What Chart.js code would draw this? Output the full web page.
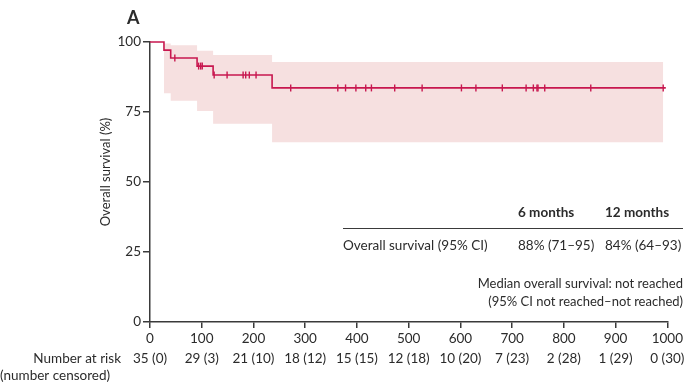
<!DOCTYPE html>
<html>
<head>
<meta charset="utf-8">
<script src="https://cdn.jsdelivr.net/npm/chart.js@4.4.0/dist/chart.umd.min.js"></script>
<style>
  html, body { margin: 0; padding: 0; background: #fff; }
  #wrap { width: 686px; height: 384px; }
</style>
</head>
<body>
<div id="wrap"><canvas id="survivalChart" width="686" height="384"></canvas></div>
<script>
// Kaplan-Meier curve (days, %)
const kmDays = [0, 27, 40, 91, 122, 236, 997];
const kmSurvival = [100, 97.1, 94.3, 91.4, 88.2, 83.6, 83.6];

// 95% CI band
const ciDays = [27, 40, 91, 122, 236, 992];
const ciUpper = [99.5, 98.8, 96.9, 95.4, 92.9, 92.9];
const ciLower = [81.7, 79.0, 75.4, 70.8, 64.2, 64.2];

// censored patients
const censorDays = [48, 94, 98, 101, 124, 149, 180, 185, 192, 205, 272, 363, 378, 398, 417, 428,
    473, 526, 602, 630, 681, 727, 741, 748, 750, 763, 852, 992];
const censorSurvival = [94.3, 91.4, 91.4, 91.4, 88.2, 88.2, 88.2, 88.2, 88.2, 88.2, 83.6, 83.6, 83.6,
    83.6, 83.6, 83.6, 83.6, 83.6, 83.6, 83.6, 83.6, 83.6, 83.6, 83.6, 83.6, 83.6, 83.6, 83.6];

// number at risk table
const riskDays = [0, 100, 200, 300, 400, 500, 600, 700, 800, 900, 1000];
const riskLabels = ['35 (0)', '29 (3)', '21 (10)', '18 (12)', '15 (15)', '12 (18)', '10 (20)',
    '7 (23)', '2 (28)', '1 (29)', '0 (30)'];

const xTicks = [0, 100, 200, 300, 400, 500, 600, 700, 800, 900, 1000];
const yTicks = [0, 25, 50, 75, 100];

const LINE_COLOR = '#c8174f';
const BAND_COLOR = '#f6e0e0';
const TEXT_COLOR = '#2b2b2b';
const AXIS_COLOR = '#3a3a3a';
const FONT = 'Lato';

const toPoints = (xs, ys) => xs.map((x, i) => ({ x: x, y: ys[i] }));

// text around the plot: panel letter, axis title, summary table, risk table
const annotations = {
    id: 'annotations',
    afterDraw(chart) {
        const ctx = chart.ctx;
        const xScale = chart.scales.x;
        ctx.save();
        ctx.fillStyle = TEXT_COLOR;
        ctx.textBaseline = 'middle';

        ctx.font = `bold 18px ${FONT}`;
        ctx.textAlign = 'left';
        ctx.fillText('A', 127, 18);

        // y axis title
        ctx.save();
        ctx.translate(106, 172);
        ctx.rotate(-Math.PI / 2);
        ctx.textAlign = 'center';
        ctx.font = `13px ${FONT}`;
        ctx.fillText('Overall survival (%)', 0, 0);
        ctx.restore();

        // summary table
        ctx.font = `bold 13.5px ${FONT}`;
        ctx.textAlign = 'left';
        ctx.fillText('6 months', 518, 213);
        ctx.fillText('12 months', 605, 213);

        ctx.strokeStyle = AXIS_COLOR;
        ctx.lineWidth = 1;
        ctx.beginPath();
        ctx.moveTo(343, 228.5);
        ctx.lineTo(683, 228.5);
        ctx.stroke();

        ctx.font = `13.5px ${FONT}`;
        ctx.fillText('Overall survival (95% CI)', 343, 246);
        ctx.fillText('88% (71\u201395)', 518, 246);
        ctx.fillText('84% (64\u201393)', 605, 246);

        ctx.font = `13px ${FONT}`;
        ctx.textAlign = 'right';
        ctx.fillText('Median overall survival: not reached', 683, 284);
        ctx.fillText('(95% CI not reached\u2013not reached)', 683, 302);

        // number at risk
        ctx.font = `13.5px ${FONT}`;
        ctx.fillText('Number at risk', 121, 359);
        ctx.textAlign = 'left';
        ctx.fillText('(number censored)', 0, 376);
        ctx.textAlign = 'center';
        riskDays.forEach((d, i) => {
            ctx.fillText(riskLabels[i], xScale.getPixelForValue(d), 359);
        });
        ctx.restore();
    }
};

new Chart(document.getElementById('survivalChart'), {
    type: 'line',
    data: {
        datasets: [
            {
                label: 'Censored',
                type: 'scatter',
                data: toPoints(censorDays, censorSurvival),
                pointStyle: 'line',
                rotation: 90,
                radius: 3.5,
                borderColor: LINE_COLOR,
                borderWidth: 1.4,
                showLine: false,
                clip: false,
                order: 0
            },
            {
                label: 'Overall survival',
                data: toPoints(kmDays, kmSurvival),
                stepped: true,
                borderColor: LINE_COLOR,
                borderWidth: 1.6,
                pointRadius: 0,
                fill: false,
                clip: false,
                order: 1
            },
            {
                label: 'CI upper',
                data: toPoints(ciDays, ciUpper),
                stepped: true,
                borderWidth: 0,
                borderColor: 'rgba(0,0,0,0)',
                backgroundColor: BAND_COLOR,
                pointRadius: 0,
                fill: '+1',
                order: 2
            },
            {
                label: 'CI lower',
                data: toPoints(ciDays, ciLower),
                stepped: true,
                borderWidth: 0,
                borderColor: 'rgba(0,0,0,0)',
                pointRadius: 0,
                fill: false,
                order: 3
            }
        ]
    },
    options: {
        responsive: false,
        animation: false,
        layout: { padding: { top: 42, right: 18, bottom: 0, left: 0 } },
        plugins: {
            legend: { display: false },
            tooltip: { enabled: false }
        },
        scales: {
            x: {
                type: 'linear',
                min: 0,
                max: 1000,
                afterFit: (scale) => { scale.height = 62; },
                afterBuildTicks: (scale) => { scale.ticks = xTicks.map(v => ({ value: v })); },
                border: { color: AXIS_COLOR, width: 1.5 },
                grid: { drawOnChartArea: false, drawTicks: true, tickLength: 6, color: AXIS_COLOR, lineWidth: 1.5 },
                ticks: {
                    color: TEXT_COLOR,
                    font: { family: FONT, size: 13.5 },
                    padding: 3,
                    maxRotation: 0,
                    callback: (v) => String(v)
                }
            },
            y: {
                min: 0,
                max: 100,
                afterFit: (scale) => { scale.width = 150; },
                afterBuildTicks: (scale) => { scale.ticks = yTicks.map(v => ({ value: v })); },
                border: { color: AXIS_COLOR, width: 1.5 },
                grid: { drawOnChartArea: false, drawTicks: true, tickLength: 7, color: AXIS_COLOR, lineWidth: 1.5 },
                ticks: { color: TEXT_COLOR, font: { family: FONT, size: 13.5 }, padding: 2 }
            }
        }
    },
    plugins: [annotations]
});
</script>
</body>
</html>
